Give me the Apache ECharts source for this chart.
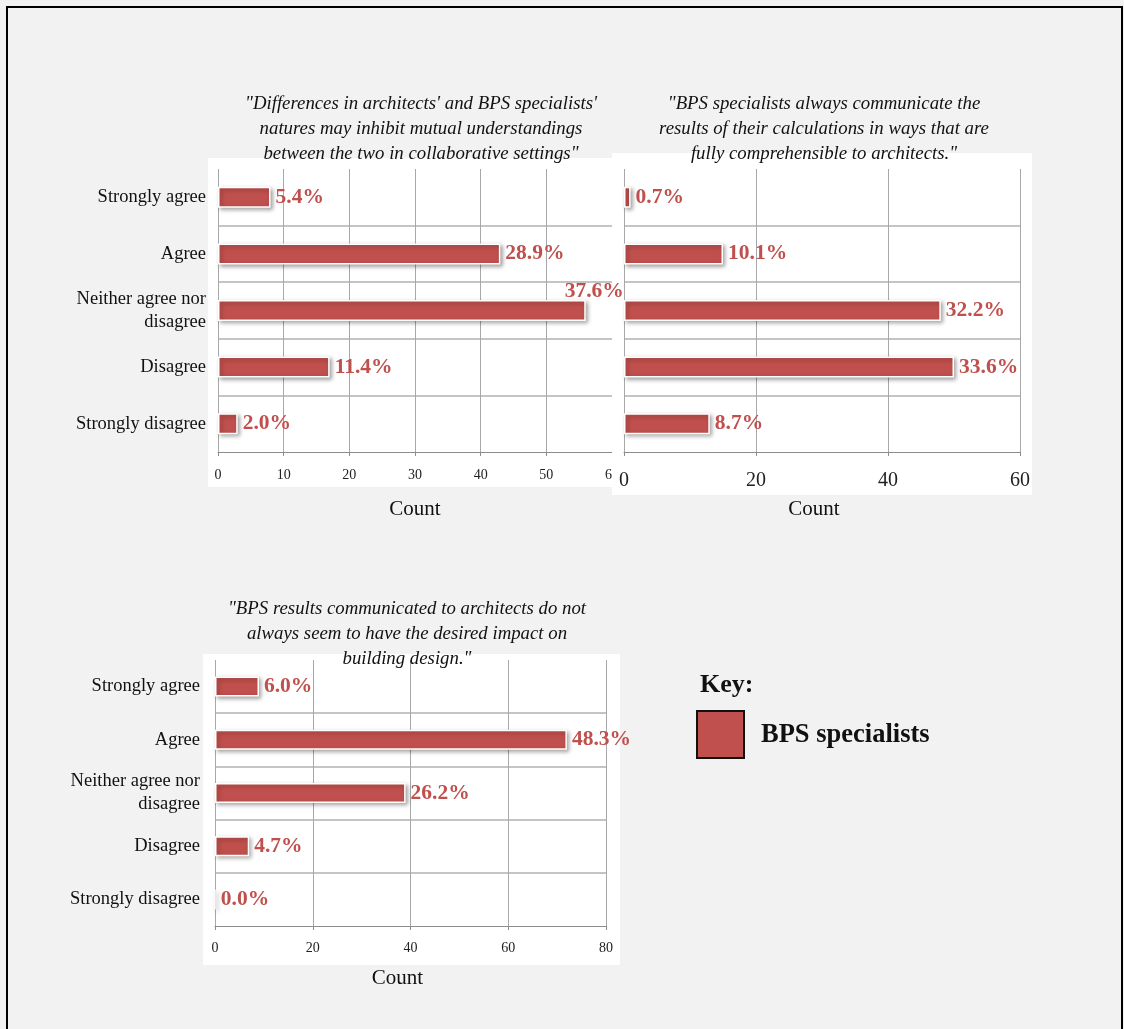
<!DOCTYPE html>
<html>
<head>
<meta charset="utf-8">
<script src="https://cdn.jsdelivr.net/npm/echarts@6/dist/echarts.min.js"></script>
<style>
  html, body { margin: 0; padding: 0; background: #f2f2f2; }
  #main { width: 1124px; height: 1029px; }
</style>
</head>
<body>
<div id="main"></div>
<script>
var categories = ['Strongly agree', 'Agree', 'Neither agree nor\ndisagree', 'Disagree', 'Strongly disagree'];

// counts (n = 149) and the percentage labels printed on the bars
var differencesCounts = [8, 43, 56, 17, 3];
var differencesPct = ['5.4%', '28.9%', '37.6%', '11.4%', '2.0%'];

var communicateCounts = [1, 15, 48, 50, 13];
var communicatePct = ['0.7%', '10.1%', '32.2%', '33.6%', '8.7%'];

var impactCounts = [9, 72, 39, 7, 0];
var impactPct = ['6.0%', '48.3%', '26.2%', '4.7%', '0.0%'];

var titles = [
  '"Differences in architects\' and BPS specialists\'\nnatures may inhibit mutual understandings\nbetween the two in collaborative settings"',
  '"BPS specialists always communicate the\nresults of their calculations in ways that are\nfully comprehensible to architects."',
  '"BPS results communicated to architects do not\nalways seem to have the desired impact on\nbuilding design."'
];

var serif = '"Liberation Serif", "Times New Roman", serif';
var red = '#c0504d';

function buildData(counts, shifted) {
  return counts.map(function (v, i) {
    var item = { value: v };
    if (shifted === i) {
      item.label = { offset: [-26, -19] };
    }
    return item;
  });
}

function barSeries(idx, counts, pct, barW, shifted) {
  return {
    type: 'bar',
    xAxisIndex: idx,
    yAxisIndex: idx,
    z: idx === 1 ? 4 : 3,
    barWidth: barW,
    data: buildData(counts, shifted),
    itemStyle: {
      color: red,
      borderColor: '#ffffff',
      borderWidth: 1.5,
      shadowColor: 'rgba(0,0,0,0.35)',
      shadowBlur: 4,
      shadowOffsetX: 2,
      shadowOffsetY: 2
    },
    label: {
      show: true,
      position: 'right',
      distance: 5,
      color: red,
      fontFamily: serif,
      fontWeight: 'bold',
      fontSize: 21.5,
      formatter: function (p) { return pct[p.dataIndex]; }
    }
  };
}

function xAx(idx, max, interval, labelSize, labelMargin, nameGap, namePad, z) {
  return {
    type: 'value',
    gridIndex: idx,
    min: 0,
    max: max,
    interval: interval,
    z: z,
    name: 'Count',
    nameLocation: 'middle',
    nameGap: nameGap,
    nameTextStyle: { fontFamily: serif, fontSize: 21, color: '#111', padding: namePad },
    axisLine: { show: true, lineStyle: { color: '#8c8c8c', width: 1 } },
    axisTick: { show: true, length: 4, lineStyle: { color: '#8c8c8c' } },
    axisLabel: { fontFamily: serif, fontSize: labelSize, color: '#222', margin: labelMargin },
    splitLine: { show: true, lineStyle: { color: '#a8a8a8', width: 1 } }
  };
}

function yAx(idx, showLabels, margin, z) {
  return {
    type: 'category',
    gridIndex: idx,
    inverse: true,
    data: categories,
    z: z,
    axisLine: { show: false },
    axisTick: { show: false },
    axisLabel: {
      show: showLabels,
      margin: margin,
      fontFamily: serif,
      fontSize: 18.5,
      lineHeight: 23,
      color: '#111',
      align: 'right'
    },
    splitLine: {
      show: true,
      showMinLine: false,
      showMaxLine: false,
      lineStyle: { color: '#c4c4c4', width: 2 }
    }
  };
}

var myChart = echarts.init(document.getElementById('main'), null, { renderer: 'canvas' });

var titleStyle = { align: 'center', verticalAlign: 'top', fontFamily: serif, fontStyle: 'italic', fontSize: 18.8, lineHeight: 25, fill: '#111' };

var option = {
  backgroundColor: '#f2f2f2',
  animation: false,
  grid: [
    { left: 218, top: 169, width: 394, height: 283 },
    { left: 624, top: 169, width: 396, height: 283 },
    { left: 215, top: 660, width: 391, height: 266 }
  ],
  xAxis: [
    xAx(0, 60, 10, 14, 16, 47, [0, 0, 0, 0], 0),
    xAx(1, 60, 20, 20, 19, 47, [0, 16, 0, 0], 2),
    xAx(2, 80, 20, 14, 15, 42, [0, 26, 0, 0], 0)
  ],
  yAxis: [
    yAx(0, true, 12, 0),
    yAx(1, false, 12, 2),
    yAx(2, true, 15, 0)
  ],
  series: [
    barSeries(0, differencesCounts, differencesPct, 21, 2),
    barSeries(1, communicateCounts, communicatePct, 21, -1),
    barSeries(2, impactCounts, impactPct, 20, -1)
  ],
  graphic: [
    // white plot panels
    { type: 'rect', z: -1, shape: { x: 208, y: 158, width: 404, height: 329 }, style: { fill: '#ffffff' } },
    { type: 'rect', z: 1, shape: { x: 612, y: 153, width: 420, height: 342 }, style: { fill: '#ffffff' } },
    { type: 'rect', z: -1, shape: { x: 203, y: 654, width: 417, height: 311 }, style: { fill: '#ffffff' } },
    // outer frame
    { type: 'rect', z: 10, shape: { x: 7, y: 7, width: 1115, height: 1030 }, style: { fill: null, stroke: '#000', lineWidth: 2 } },
    // question titles
    { type: 'text', z: 10, x: 421, y: 92, style: Object.assign({ text: titles[0] }, titleStyle) },
    { type: 'text', z: 10, x: 824, y: 92, style: Object.assign({ text: titles[1] }, titleStyle) },
    { type: 'text', z: 10, x: 407, y: 597, style: Object.assign({ text: titles[2] }, titleStyle) },
    // key
    { type: 'text', z: 10, x: 700, y: 685, style: { text: 'Key:', verticalAlign: 'middle', fontFamily: serif, fontWeight: 'bold', fontSize: 26, fill: '#111' } },
    { type: 'rect', z: 10, shape: { x: 697, y: 711, width: 47, height: 47 }, style: { fill: red, stroke: '#111', lineWidth: 2 } },
    { type: 'text', z: 10, x: 761, y: 735, style: { text: 'BPS specialists', verticalAlign: 'middle', fontFamily: serif, fontWeight: 'bold', fontSize: 26.5, fill: '#111' } }
  ]
};

if (option && typeof option === 'object') {
  myChart.setOption(option);
}

window.addEventListener('resize', myChart.resize);
</script>
</body>
</html>
